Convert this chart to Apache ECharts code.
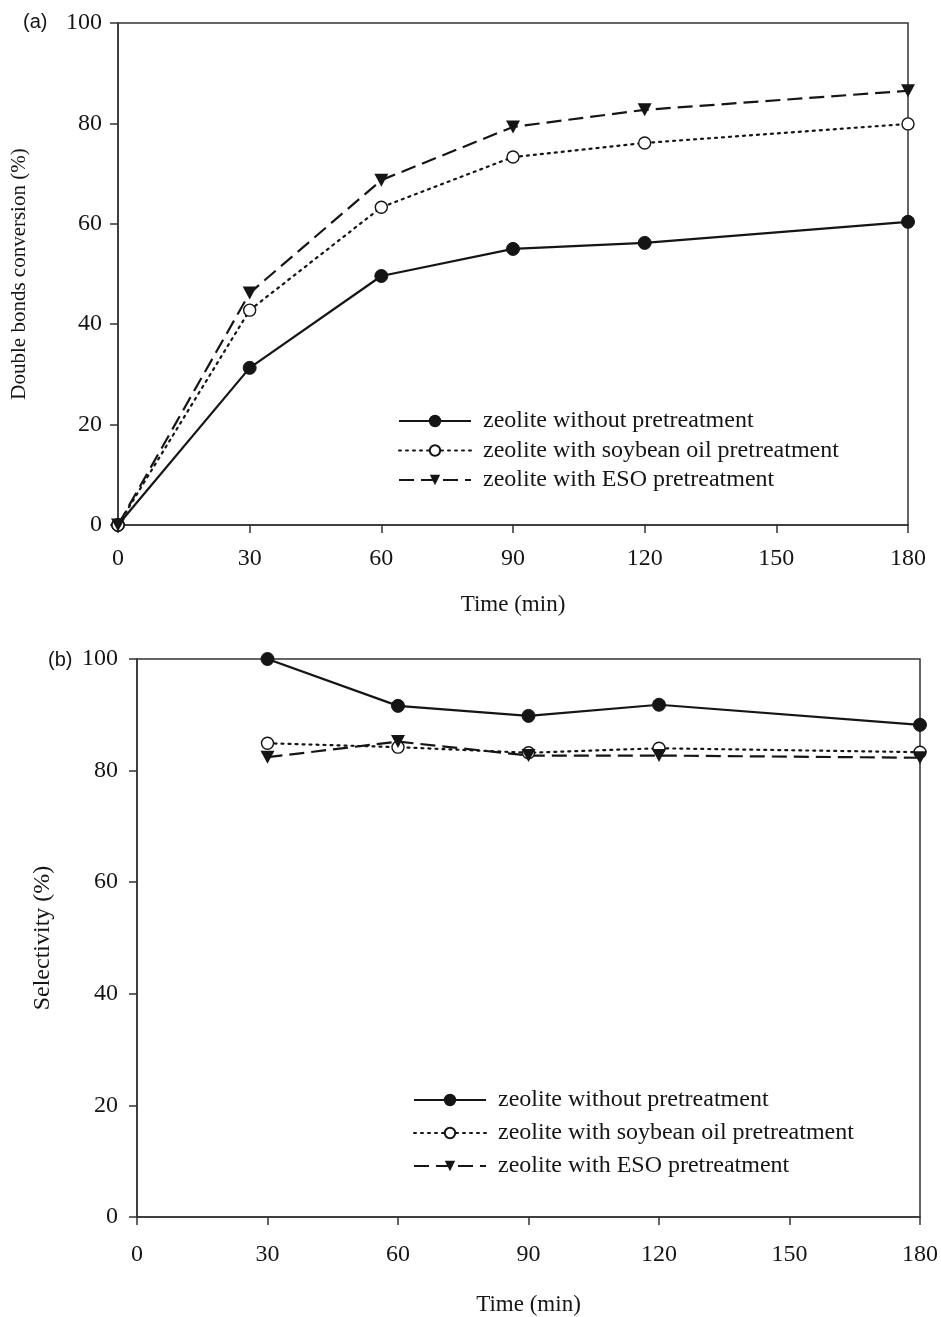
<!DOCTYPE html>
<html lang="en">
<head>
    <meta charset="UTF-8">
    <script src="https://cdn.jsdelivr.net/npm/echarts@6/dist/echarts.min.js"></script>
    <title>Zeolite pretreatment</title>
    <style>
        html, body { margin: 0; padding: 0; background: #fff; }
        #chart { width: 941px; height: 1317px; }
    </style>
</head>
<body>
<div id="chart"></div>
<script>
    // (a) double bonds conversion
    let timesA = [0, 30, 60, 90, 120, 180]
    let convNone = [0, 31.3, 49.6, 55.0, 56.2, 60.4]
    let convSoy = [0, 42.8, 63.3, 73.3, 76.1, 79.9]
    let convEso = [0, 46.2, 68.7, 79.3, 82.7, 86.5]

    // (b) selectivity
    let timesB = [30, 60, 90, 120, 180]
    let selNone = [100, 91.6, 89.8, 91.8, 88.2]
    let selSoy = [84.9, 84.2, 83.2, 84.0, 83.3]
    let selEso = [82.4, 85.2, 82.7, 82.7, 82.3]

    let names = ['zeolite without pretreatment', 'zeolite with soybean oil pretreatment', 'zeolite with ESO pretreatment']

    const serif = 'Liberation Serif'
    const ink = '#151515'
    const triDown = 'path://M0,0 L10,0 L5,9 Z'

    function pairs(xs, ys) {
        return xs.map(function (x, i) { return [x, ys[i]] })
    }

    function makeSeries(idx, data) {
        return [
            {
                name: names[0], type: 'line', xAxisIndex: idx, yAxisIndex: idx,
                data: pairs(data.t, data.a), symbol: 'circle', symbolSize: 13,
                lineStyle: { color: ink, width: 2.2 },
                itemStyle: { color: ink, borderColor: ink, borderWidth: 1 }
            },
            {
                name: names[1], type: 'line', xAxisIndex: idx, yAxisIndex: idx,
                data: pairs(data.t, data.b), symbol: 'circle', symbolSize: 12,
                lineStyle: { color: ink, width: 2.2, type: [2, 5], cap: 'round' },
                itemStyle: { color: '#fff', borderColor: ink, borderWidth: 1.4 }
            },
            {
                name: names[2], type: 'line', xAxisIndex: idx, yAxisIndex: idx,
                data: pairs(data.t, data.c), symbol: triDown, symbolSize: [14, 13],
                lineStyle: { color: ink, width: 2.2, type: [15, 7] },
                itemStyle: { color: ink, borderColor: ink, borderWidth: 0 }
            }
        ]
    }

    function xAxisOf(idx, gap, margin) {
        return {
            gridIndex: idx, type: 'value', min: 0, max: 180, interval: 30,
            name: 'Time (min)', nameLocation: 'middle', nameGap: gap,
            nameTextStyle: { fontFamily: serif, fontSize: 23, color: ink },
            axisLine: { lineStyle: { color: '#333', width: 1.5 } },
            axisTick: { show: true, inside: false, length: 8, lineStyle: { color: '#333', width: 1.5 } },
            axisLabel: { fontFamily: serif, fontSize: 24, color: ink, margin: margin },
            splitLine: { show: false }
        }
    }

    function yAxisOf(idx, title, gap, size, margin) {
        return {
            gridIndex: idx, type: 'value', min: 0, max: 100, interval: 20,
            name: title, nameLocation: 'middle', nameGap: gap, nameRotate: 90,
            nameTextStyle: { fontFamily: serif, fontSize: size, color: ink },
            axisLine: { show: true, lineStyle: { color: '#333', width: 1.5 } },
            axisTick: { show: true, inside: false, length: 8, lineStyle: { color: '#333', width: 1.5 } },
            axisLabel: { fontFamily: serif, fontSize: 24, color: ink, margin: margin },
            splitLine: { show: false }
        }
    }

    function legendOf(left, top, gap) {
        return {
            left: left, top: top, orient: 'vertical', data: names,
            itemWidth: 72, itemHeight: 13, itemGap: gap,
            selectedMode: false,
            textStyle: { fontFamily: serif, fontSize: 24, lineHeight: 24, color: ink, padding: [0, 0, 0, 7] }
        }
    }

    let option = {
        animation: false,
        backgroundColor: '#fff',
        grid: [
            { left: 118, top: 23, width: 790, height: 502, show: true, borderColor: '#333', borderWidth: 1.5, backgroundColor: 'transparent' },
            { left: 137, top: 659, width: 783, height: 558, show: true, borderColor: '#333', borderWidth: 1.5, backgroundColor: 'transparent' }
        ],
        xAxis: [xAxisOf(0, 68, 22), xAxisOf(1, 76, 26)],
        yAxis: [
            yAxisOf(0, 'Double bonds conversion (%)', 88, 21, 16),
            yAxisOf(1, 'Selectivity (%)', 82, 24, 19)
        ],
        legend: [legendOf(393, 404, 5.5), legendOf(408, 1083, 9)],
        graphic: [
            { type: 'text', left: 23, top: 12, style: { text: '(a)', fontFamily: 'Liberation Sans', fontSize: 20, fill: ink } },
            { type: 'text', left: 48, top: 650, style: { text: '(b)', fontFamily: 'Liberation Sans', fontSize: 20, fill: ink } }
        ],
        series: makeSeries(0, { t: timesA, a: convNone, b: convSoy, c: convEso })
            .concat(makeSeries(1, { t: timesB, a: selNone, b: selSoy, c: selEso }))
    }

    var chart = echarts.init(document.getElementById('chart'))
    chart.setOption(option)
</script>
</body>
</html>
